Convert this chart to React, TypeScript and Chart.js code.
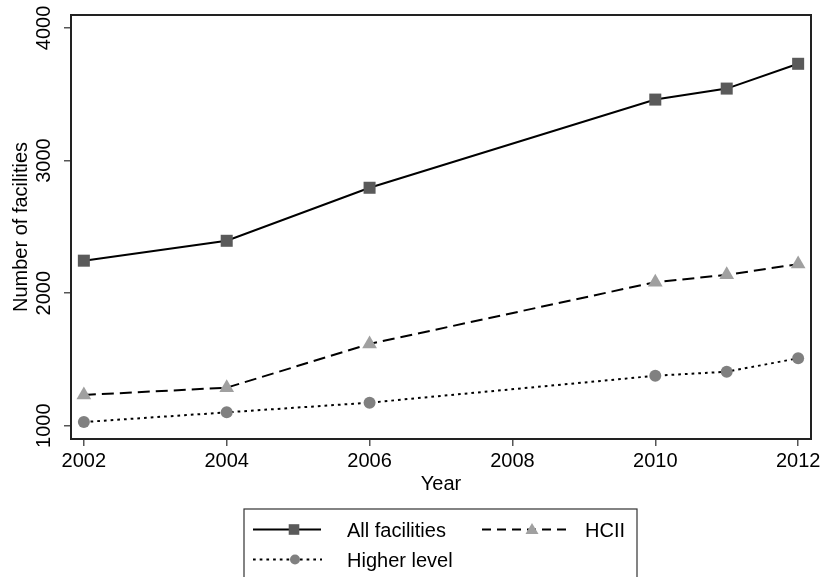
import React, { useEffect, useRef } from "react";
import { Chart, registerables } from "chart.js";

Chart.register(...registerables);

const years = [2002, 2004, 2006, 2010, 2011, 2012];
const allFacilities = [2245, 2395, 2795, 3460, 3543, 3730];
const hcii = [1232, 1287, 1617, 2083, 2138, 2219];
const higherLevel = [1028, 1101, 1174, 1377, 1407, 1509];
const xTicks = [2002, 2004, 2006, 2008, 2010, 2012];
const yTicks = [1000, 2000, 3000, 4000];
const seriesLabels = ["All facilities", "HCII", "Higher level"];

const FONT = "'Liberation Sans', Arial, Helvetica, sans-serif";

const toPoints = (vals: number[]) => years.map((x, i) => ({ x, y: vals[i] }));

const customPlugin = {
  id: "stataDecor",
  afterDraw(chart: any) {
    const { ctx, chartArea, scales } = chart;
    ctx.save();
    // plot region box
    ctx.strokeStyle = "#222";
    ctx.lineWidth = 2;
    ctx.strokeRect(chartArea.left, chartArea.top, chartArea.right - chartArea.left, chartArea.bottom - chartArea.top);

    // rotated y tick labels
    ctx.fillStyle = "#000";
    ctx.font = `20px ${FONT}`;
    ctx.textAlign = "center";
    ctx.textBaseline = "middle";
    for (const v of yTicks) {
      const py = scales.y.getPixelForValue(v);
      ctx.save();
      ctx.translate(44.5, py);
      ctx.rotate(-Math.PI / 2);
      ctx.fillText(String(v), 0, 0);
      ctx.restore();
    }

    // legend
    const bx = 244, by = 509, bw = 393, bh = 90;
    ctx.strokeStyle = "#333";
    ctx.lineWidth = 1.2;
    ctx.strokeRect(bx, by, bw, bh);

    const drawSample = (x1: number, x2: number, y: number, dash: number[], mx: number, kind: string, color: string) => {
      ctx.save();
      ctx.strokeStyle = "#000";
      ctx.lineWidth = 1.8;
      ctx.setLineDash(dash);
      ctx.beginPath();
      ctx.moveTo(x1, y);
      ctx.lineTo(x2, y);
      ctx.stroke();
      ctx.setLineDash([]);
      ctx.fillStyle = color;
      ctx.beginPath();
      if (kind === "rect") {
        ctx.rect(mx - 5.3, y - 5.3, 10.6, 10.6);
      } else if (kind === "triangle") {
        ctx.moveTo(mx, y - 6.5);
        ctx.lineTo(mx + 6.5, y + 4.5);
        ctx.lineTo(mx - 6.5, y + 4.5);
        ctx.closePath();
      } else {
        ctx.arc(mx, y, 5, 0, Math.PI * 2);
      }
      ctx.fill();
      ctx.restore();
    };

    drawSample(253, 321, 529.5, [], 294, "rect", "#5a5a5a");
    drawSample(482, 571, 529.5, [9, 6], 532, "triangle", "#a0a0a0");
    drawSample(253, 322, 559.5, [2.7, 4], 295, "circle", "#808080");

    ctx.fillStyle = "#000";
    ctx.font = `20px ${FONT}`;
    ctx.textAlign = "left";
    ctx.textBaseline = "alphabetic";
    ctx.fillText(seriesLabels[0], 347, 537);
    ctx.fillText(seriesLabels[1], 585, 537);
    ctx.fillText(seriesLabels[2], 347, 567);
    ctx.restore();
  },
};

export default function App() {
  const ref = useRef<HTMLCanvasElement | null>(null);

  useEffect(() => {
    document.body.style.margin = "0";
    const canvas = ref.current;
    if (!canvas) return;
    const chart = new Chart(canvas, {
      type: "line",
      data: {
        datasets: [
          {
            label: seriesLabels[0],
            data: toPoints(allFacilities),
            borderColor: "#000",
            borderWidth: 2,
            pointStyle: "rect",
            pointRadius: 8.5,
            pointBackgroundColor: "#5a5a5a",
            pointBorderWidth: 0,
            tension: 0,
          },
          {
            label: seriesLabels[1],
            data: toPoints(hcii),
            borderColor: "#000",
            borderWidth: 2,
            borderDash: [12, 6],
            pointStyle: "triangle",
            pointRadius: 8.5,
            pointBackgroundColor: "#a0a0a0",
            pointBorderWidth: 0,
            tension: 0,
          },
          {
            label: seriesLabels[2],
            data: toPoints(higherLevel),
            borderColor: "#000",
            borderWidth: 2,
            borderDash: [2.7, 4],
            pointStyle: "circle",
            pointRadius: 6,
            pointBackgroundColor: "#808080",
            pointBorderWidth: 0,
            tension: 0,
          },
        ],
      },
      options: {
        responsive: false,
        animation: false,
        devicePixelRatio: 1,
        layout: { padding: { left: 0, top: 15, right: 13, bottom: 78 } },
        plugins: { legend: { display: false }, tooltip: { enabled: false } },
        scales: {
          x: {
            type: "linear",
            min: 2001.82,
            max: 2012.18,
            afterBuildTicks: (axis: any) => {
              axis.ticks = xTicks.map((v) => ({ value: v }));
            },
            afterFit: (scale: any) => {
              scale.height = 60;
            },
            grid: { drawOnChartArea: false, drawTicks: true, tickLength: 7, color: "#555", lineWidth: 1.5 },
            border: { display: true, color: "#222", width: 2 },
            ticks: {
              font: { size: 20, family: FONT },
              color: "#000",
              padding: 3,
              maxRotation: 0,
              autoSkip: false,
              callback: (v: any) => String(v),
            },
            title: {
              display: true,
              text: "Year",
              color: "#000",
              font: { size: 20, family: FONT },
              padding: { top: 0, bottom: 3 },
            },
          },
          y: {
            type: "linear",
            min: 900,
            max: 4098,
            afterBuildTicks: (axis: any) => {
              axis.ticks = yTicks.map((v) => ({ value: v }));
            },
            afterFit: (scale: any) => {
              scale.width = 71;
            },
            grid: { drawOnChartArea: false, drawTicks: true, tickLength: 7, color: "#555", lineWidth: 1.5 },
            border: { display: true, color: "#222", width: 2 },
            ticks: { display: false },
            title: {
              display: true,
              text: "Number of facilities",
              color: "#000",
              font: { size: 20, family: FONT },
              padding: { top: 9, bottom: 0 },
            },
          },
        },
      },
      plugins: [customPlugin],
    });
    return () => chart.destroy();
  }, []);

  return (
    <div style={{ width: 824, height: 577, background: "#fff" }}>
      <canvas ref={ref} width={824} height={577} style={{ display: "block" }} />
    </div>
  );
}
